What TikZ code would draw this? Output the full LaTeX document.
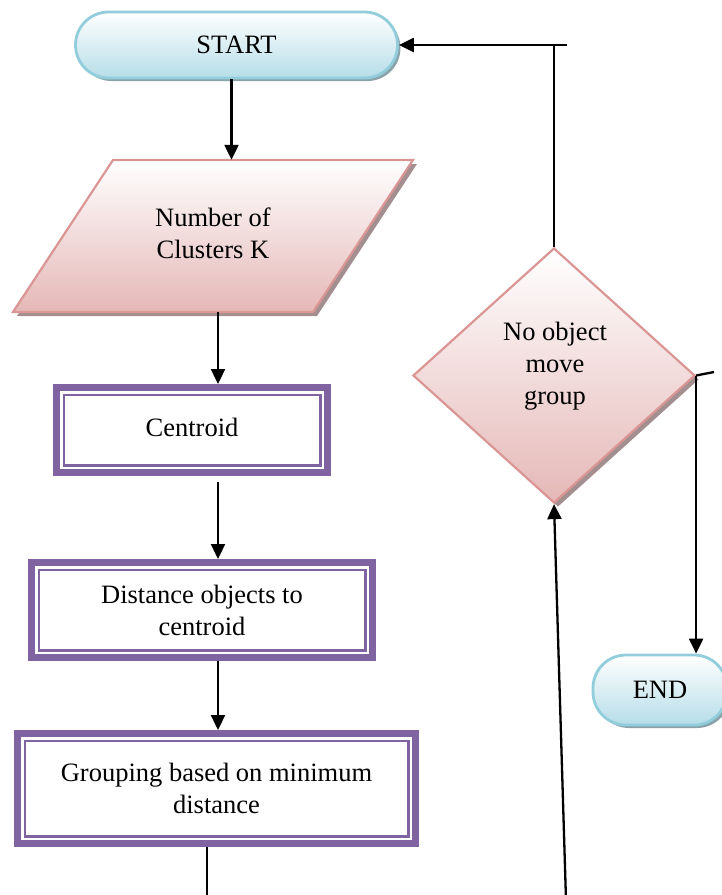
\documentclass[tikz,border=0pt]{standalone}
\usepackage{fontspec}
\setmainfont{Liberation Serif}
\usetikzlibrary{shapes.geometric,shadows,arrows.meta,calc}
\definecolor{tblue}{HTML}{92CDDC}
\definecolor{tbluef}{HTML}{B6DDE8}
\definecolor{tshadow}{HTML}{8AA3AA}
\definecolor{pborder}{HTML}{D99694}
\definecolor{pfill}{HTML}{E5B8B7}
\definecolor{pshadow}{HTML}{A38F8F}
\definecolor{purp}{HTML}{8064A2}
\begin{document}
\begin{tikzpicture}[x=1pt,y=-1pt,
  font=\fontsize{26.5}{32}\selectfont,
  term/.style={rectangle, rounded corners=33pt, draw=tblue, line width=2.8pt,
    top color=white, bottom color=tbluef,
    general shadow={fill=tshadow, shadow xshift=3pt, shadow yshift=-3pt},
    inner sep=0pt, align=center},
  pshape/.style={draw=pborder, line width=2.2pt, top color=white, bottom color=pfill},
  pshad/.style={fill=pshadow},
  dec/.style={diamond, draw=pborder, line width=2.2pt,
    top color=white, bottom color=pfill,
    general shadow={fill=pshadow, shadow xshift=4pt, shadow yshift=-4pt},
    inner sep=0pt},
  box/.style={rectangle, draw=purp, line width=7pt, fill=white, inner sep=0pt, align=center,
    path picture={\draw[purp, line width=2.5pt]
      ([shift={(7.25pt,7.25pt)}]path picture bounding box.south west) rectangle
      ([shift={(-7.25pt,-7.25pt)}]path picture bounding box.north east);}},
  txt/.style={inner sep=0pt, align=center},
  ln/.style={line width=2.3pt, black},
  arr/.style={ln, -{Triangle[length=15pt,width=14pt]}}
]
\useasboundingbox (0,0) rectangle (722,895);
\clip (0,0) rectangle (722,895);

% parallelogram (input)
\fill[pshad] (117,164) -- (417,164) -- (317,316) -- (17,316) -- cycle;
\path[pshape] (113,160) -- (413,160) -- (313,312) -- (13,312) -- cycle;
\node[txt, minimum width=300pt, minimum height=152pt] (par) at (213,236) {\raisebox{3pt}{\begin{tabular}{@{}c@{}}Number of\\Clusters K\end{tabular}}};

% nodes
\node[term, minimum width=322pt, minimum height=66pt] (start) at (236.5,45) {START};
\node[box, minimum width=271pt, minimum height=85pt] (cen) at (192,430) {\raisebox{5pt}{Centroid}};
\node[box, minimum width=341pt, minimum height=95pt] (dist) at (202,610) {Distance objects to\\centroid};
\node[box, minimum width=398pt, minimum height=110pt] (grp) at (216.5,788.5) {Grouping based on minimum\\distance};
\node[dec, minimum width=282pt, minimum height=255pt] (dec) at (554,375.5) {};
\node[txt] (dect) at (555,366.5) {No object\\move\\group};
\node[term, minimum width=134pt, minimum height=70pt] (en) at (660,690) {END};

\coordinate (tr) at (567,45);
\coordinate (rt) at (714,372);
\coordinate (b1) at (207,900);
\coordinate (b2) at (566,900);

% connectors
\draw[arr] ([xshift=-5pt]start.south) -- ([xshift=-5pt]start.south |- par.north);
\draw[arr] ([xshift=5pt]par.south) -- ([xshift=5pt]par.south |- cen.north);
\draw[arr, shorten <=6pt] ([xshift=26pt]cen.south) -- ([xshift=26pt]cen.south |- dist.north);
\draw[arr] ([xshift=16pt]dist.south) -- ([xshift=16pt]dist.south |- grp.north);
\draw[ln] ([xshift=-9.5pt]grp.south) -- (b1);
\draw[arr] (b2) -- (dec.south);
\draw[ln] (dec.north) -- (dec.north |- tr);
\draw[arr] (tr) -- (start.east);
\draw[ln] (dec.east) -- (rt);
\draw[arr] (dec.east) -- (dec.east |- en.north);
\end{tikzpicture}
\end{document}
